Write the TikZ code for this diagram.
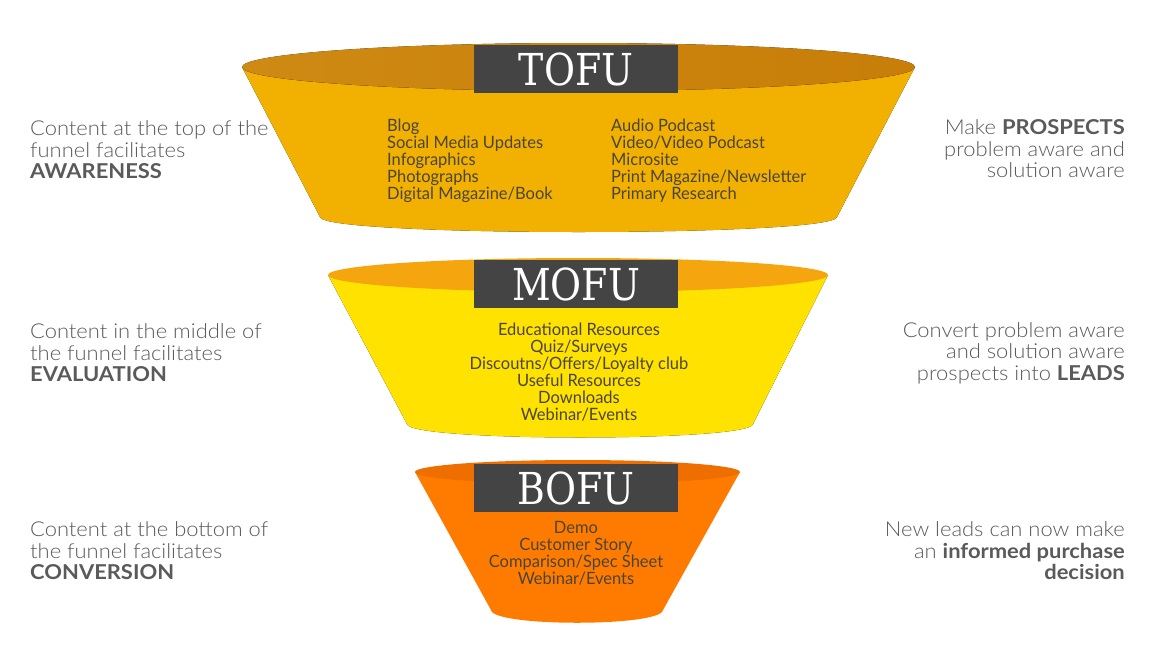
\documentclass[tikz,border=0pt]{standalone}
\usepackage{fontspec}
\newfontfamily\sidefont{Lato Light}[BoldFont={Lato Bold}, FakeStretch=1.07]
\newfontfamily\itemfont{Lato}[FakeStretch=0.97]
\newfontfamily\headfont{DejaVu Serif}[FakeStretch=0.86]
\definecolor{headgray}{HTML}{444444}
\definecolor{sidegray}{HTML}{5A5A5A}
\definecolor{itemgray}{HTML}{4A4536}
\definecolor{tofuEdge}{HTML}{F2B000}
\definecolor{tofuMid}{HTML}{FFC922}
\definecolor{tofuRimL}{HTML}{CE8A14}
\definecolor{tofuRimM}{HTML}{DC9C1C}
\definecolor{tofuRimR}{HTML}{C87E08}
\definecolor{mofuEdge}{HTML}{FFE200}
\definecolor{mofuMid}{HTML}{FFEA00}
\definecolor{mofuRim}{HTML}{F5A50E}
\definecolor{bofuBody}{HTML}{FF7B00}
\definecolor{bofuRim}{HTML}{EE6E00}
\begin{document}
\begin{tikzpicture}[x=1pt,y=-1pt,
  head/.style={fill=headgray, text=white, font=\headfont\fontsize{44}{44}\selectfont,
    minimum width=204pt, minimum height=48pt, inner sep=0pt},
  items/.style={text=itemgray, font=\itemfont\fontsize{17}{17}\selectfont, inner sep=0pt},
  side/.style={text=sidegray, font=\sidefont\fontsize{20.5}{21.5}\selectfont, inner sep=0pt}]
\useasboundingbox[fill=white] (0,0) rectangle (1175,659);

% ---------- TOFU ----------
\fill[left color=tofuEdge, middle color=tofuMid, right color=tofuEdge]
  (242,67) -- (320,217) .. controls (322,237) and (835,237) .. (837,217) -- (915,67) -- cycle;
\fill[left color=tofuRimL, middle color=tofuRimM, right color=tofuRimR]
  (578.5,67) ellipse [x radius=336.5, y radius=24];
\node[head] (tofu) at (576,69) {TOFU};
\node[items, anchor=west, align=left] (tofuA) at (387,161)
  {Blog\\Social Media Updates\\Infographics\\Photographs\\Digital Magazine/Book};
\node[items, anchor=west, align=left] (tofuB) at (611,161)
  {Audio Podcast\\Video/Video Podcast\\Microsite\\Print Magazine/Newsletter\\Primary Research};

% ---------- MOFU ----------
\fill[left color=mofuEdge, middle color=mofuMid, right color=mofuEdge]
  (328,275) -- (407,424) .. controls (409,442) and (751,442) .. (753,424) -- (828,275) -- cycle;
\fill[mofuRim] (578,275) ellipse [x radius=250, y radius=17];
\node[head] (mofu) at (576,284) {MOFU};
\node[items, align=center] (mofuA) at (579,372.5)
  {Educational Resources\\Quiz/Surveys\\Discoutns/Offers/Loyalty club\\Useful Resources\\Downloads\\Webinar/Events};

% ---------- BOFU ----------
\fill[bofuBody]
  (415,472) -- (491,610) .. controls (493,627) and (661,627) .. (663,610) -- (740,472) -- cycle;
\fill[bofuRim] (577.5,472) ellipse [x radius=162.5, y radius=12];
\node[head] (bofu) at (576,488) {BOFU};
\node[items, align=center] (bofuA) at (576,553.5)
  {Demo\\Customer Story\\Comparison/Spec Sheet\\Webinar/Events};

% ---------- side texts ----------
\node[side, anchor=west, align=left] (l1) at (30,150)
  {Content at the top of the\\funnel facilitates\\\textbf{AWARENESS}};
\node[side, anchor=west, align=left] (l2) at (30,353)
  {Content in the middle of\\the funnel facilitates\\\textbf{EVALUATION}};
\node[side, anchor=west, align=left] (l3) at (30,551)
  {Content at the bottom of\\the funnel facilitates\\\textbf{CONVERSION}};
\node[side, anchor=east, align=right] (r1) at (1125,149)
  {Make \textbf{PROSPECTS}\\problem aware and\\solution aware};
\node[side, anchor=east, align=right] (r2) at (1125,353)
  {Convert problem aware\\and solution aware\\prospects into \textbf{LEADS}};
\node[side, anchor=east, align=right] (r3) at (1125,551)
  {New leads can now make\\an \textbf{informed purchase}\\\textbf{decision}};
\end{tikzpicture}
\end{document}
